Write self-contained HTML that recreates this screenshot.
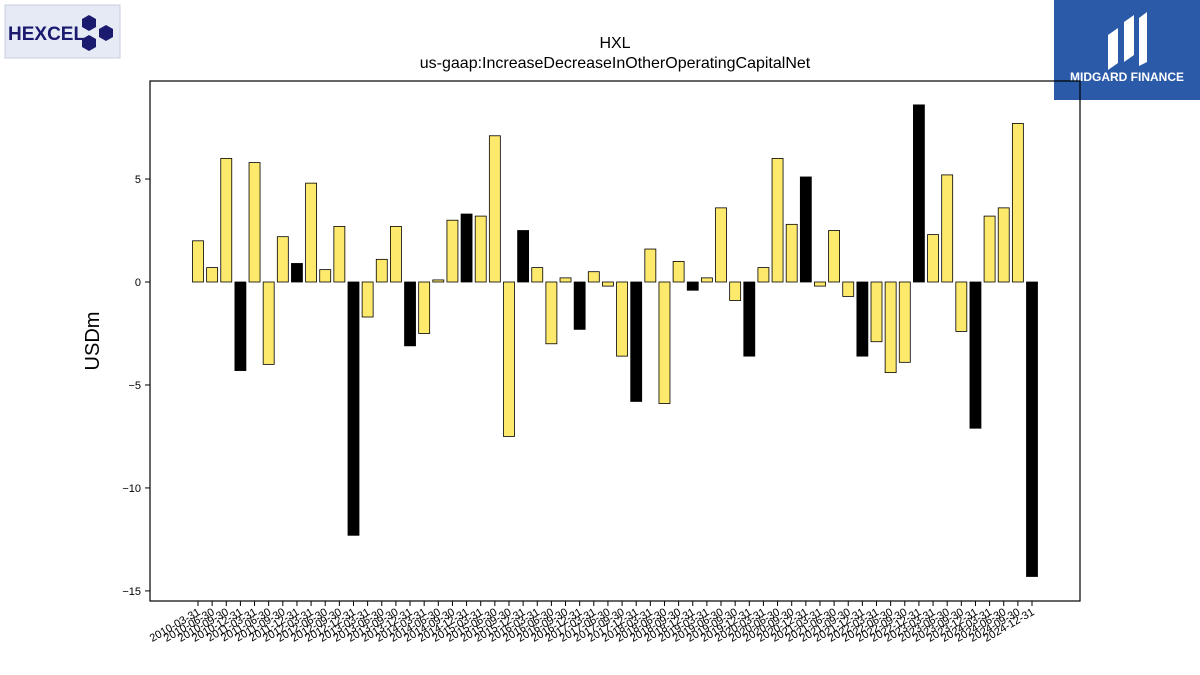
<!DOCTYPE html>
<html><head><meta charset="utf-8"><style>
body{margin:0;background:#fff;font-family:"Liberation Sans","DejaVu Sans",sans-serif}
</style></head><body>
<svg id="chart" width="1200" height="675" xmlns="http://www.w3.org/2000/svg" style="display:block">
<g>
<rect x="5" y="5" width="115" height="53" fill="#e6eaf5" stroke="#c8cde0"/>
<text x="8" y="40" font-size="19" font-weight="bold" fill="#1a1a6e" font-family="Liberation Sans, sans-serif">HEXCEL</text>
<polygon points="89,15 96,19 96,27 89,31 82,27 82,19" fill="#1a1a6e"/>
<polygon points="106,25 113,29 113,37 106,41 99,37 99,29" fill="#1a1a6e"/>
<polygon points="89,35 96,39 96,47 89,51 82,47 82,39" fill="#1a1a6e"/>
</g>
<g>
<rect x="1054" y="0" width="146" height="100" fill="#2a5aa8"/>
<path d="M1108,70 L1108,35 L1118,28 L1118,63 Z M1124,62 L1124,22 L1134,15 L1134,55 Z M1139,66 L1139,18 L1147,12 L1147,62 Z" fill="#fff"/>
<text x="1127" y="81" font-size="12" font-weight="bold" fill="#fff" text-anchor="middle">MIDGARD FINANCE</text>
</g>
<text x="615" y="48" font-size="16" text-anchor="middle">HXL</text>
<text x="615" y="68" font-size="16" text-anchor="middle">us-gaap:IncreaseDecreaseInOtherOperatingCapitalNet</text>
<text transform="translate(99,341) rotate(-90)" font-size="20" text-anchor="middle">USDm</text>
<g id="plot"></g>
<rect x="150" y="81" width="930" height="520" fill="none" stroke="#000" stroke-width="1.2"/>
</svg>
<script>
const values=[2.0,0.7,6.0,-4.3,5.8,-4.0,2.2,0.9,4.8,0.6,2.7,-12.3,-1.7,1.1,2.7,-3.1,-2.5,0.1,3.0,3.3,3.2,7.1,-7.5,2.5,0.7,-3.0,0.2,-2.3,0.5,-0.2,-3.6,-5.8,1.6,-5.9,1.0,-0.4,0.2,3.6,-0.9,-3.6,0.7,6.0,2.8,5.1,-0.2,2.5,-0.7,-3.6,-2.9,-4.4,-3.9,8.6,2.3,5.2,-2.4,-7.1,3.2,3.6,7.7,-14.3];
const yTicks=[5,0,-5,-10,-15];
const categories=[];
for(let y=2010;y<=2024;y++){for(const q of ["03-31","06-30","09-30","12-31"])categories.push(y+"-"+q);}
const NS="http://www.w3.org/2000/svg";
const g=document.getElementById("plot");
const x0=150,x1=1080,yTop=81,yBot=601,yMax=9.76,yMin=-15.49;
const sy=v=>yTop+(yMax-v)/(yMax-yMin)*(yBot-yTop);
const n=categories.length,step=(1032-198)/(n-1),first=198;
const sx=i=>first+i*step;
function el(t,a){const e=document.createElementNS(NS,t);for(const k in a)e.setAttribute(k,a[k]);g.appendChild(e);return e;}
yTicks.forEach(t=>{
 const l=el("line",{x1:x0-5,x2:x0,y1:sy(t),y2:sy(t),stroke:"#000"});
 
 
 const tx=el("text",{x:x0-9,y:sy(t)+4,"font-size":11,"text-anchor":"end"});
 tx.textContent=t===0?"0":(t<0?"\u2212"+(-t):t);
 
 
});
values.forEach((v,i)=>{
 const cx=sx(i),w=11;
 const black=categories[i].endsWith("12-31");
 const r=el("rect",{x:cx-w/2,y:Math.min(sy(v),sy(0)),width:w,height:Math.abs(sy(v)-sy(0)),fill:black?"#000":"#fde96b",stroke:"#000","stroke-width":0.8});
 
 
 const tk=el("line",{x1:cx,x2:cx,y1:yBot,y2:yBot+5,stroke:"#000"});
 
 
 const tx=el("text",{transform:`translate(${cx+3},${yBot+13}) rotate(-30)`,"font-size":11,"text-anchor":"end"});
 tx.textContent=categories[i];
 
 
});
</script>
</body></html>
